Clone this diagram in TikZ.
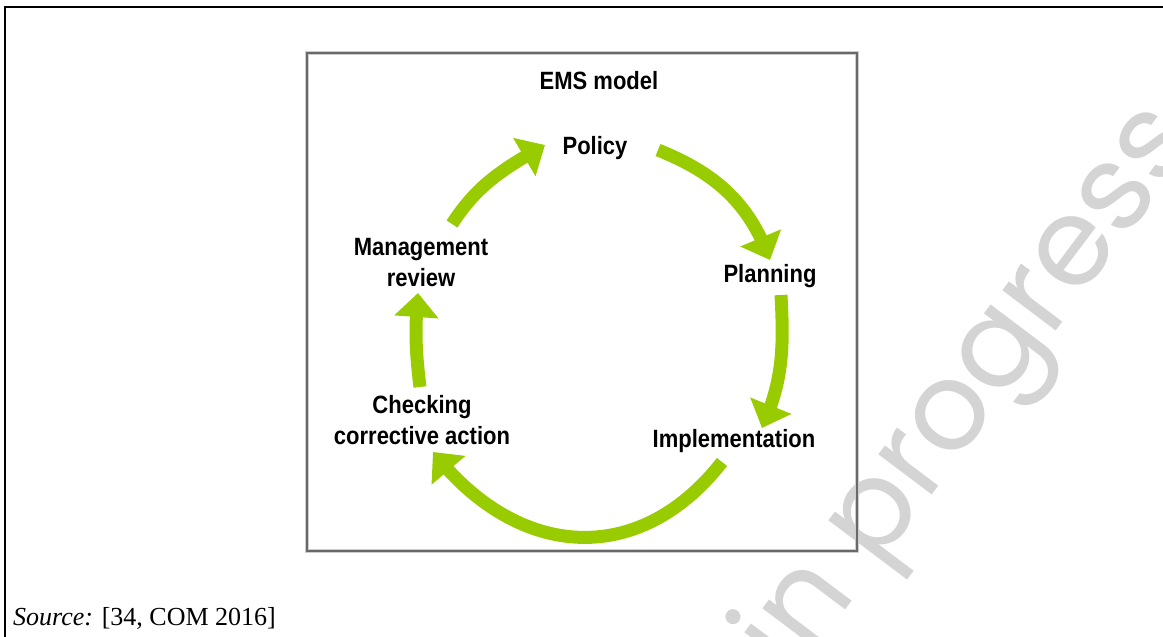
\documentclass[tikz,border=0pt]{standalone}
\usepackage{fontspec}
\setmainfont{Liberation Serif}
\newfontfamily\diagfont{Liberation Sans}[FakeStretch=0.88]
\newfontfamily\wmfont{Poppins}
\usetikzlibrary{arrows.meta,bending}
\definecolor{cyclegreen}{RGB}{153,204,0}
\definecolor{wmgray}{RGB}{212,212,212}
\definecolor{boxgray}{RGB}{105,105,105}
\definecolor{boxhalo}{RGB}{205,205,205}
\begin{document}
\begin{tikzpicture}[x=1pt,y=1pt,
  lbl/.style={font=\diagfont\bfseries\fontsize{25}{31}\selectfont, inner sep=0pt, align=center},
  cyc/.style={draw=cyclegreen, line width=13pt, -{Triangle[width=43pt,length=24pt]}},
  framebox/.style={draw=boxgray, line width=1.5pt, inner sep=0pt, minimum width=550pt, minimum height=498pt,
    preaction={draw=boxhalo, line width=4pt}},
]
\useasboundingbox (0,0) rectangle (1163,637);
% watermark
\begin{scope}
  \clip (0,0) rectangle (1163,637);
  \node[font=\wmfont\fontsize{122}{122}\selectfont, text=wmgray, rotate=53, anchor=base west, inner sep=0pt] (wm) at (792,-44) {in progress};
\end{scope}
% outer frame
\draw[line width=2pt] (1164,630) -- (5,630) -- (5,-1);
% diagram box
\node[framebox] (box) at (582,335) {};
% labels
\node[lbl, anchor=base] (ems) at (599,547) {EMS model};
\node[lbl, anchor=base] (policy) at (595,482) {Policy};
\node[lbl, anchor=base] (planning) at (770,354) {Planning};
\node[lbl, anchor=base] (impl) at (734,189) {Implementation};
\node[lbl] (check) at (422,217) {Checking\\corrective action};
\node[lbl] (mgmt) at (421,374) {Management\\review};
% arrow ends
\coordinate (m2p-s) at (452,413);  \coordinate (m2p-e) at (545,492);
\coordinate (p2pl-s) at (658,487); \coordinate (p2pl-e) at (770,377);
\coordinate (pl2im-s) at (781,342);\coordinate (pl2im-e) at (762,209);
\coordinate (im2ch-s) at (722,175);\coordinate (im2ch-e) at (433,185);
\coordinate (ch2mg-s) at (420,250);\coordinate (ch2mg-e) at (418,344);
% cycle arrows
\draw[cyc] (m2p-s) to[out=57,in=210] (m2p-e);
\draw[cyc] (p2pl-s) to[out=-22,in=110] (p2pl-e);
\draw[cyc] (pl2im-s) to[out=-87,in=66] (pl2im-e);
\draw[cyc] (im2ch-s) to[out=-128,in=-52,looseness=1.2] (im2ch-e);
\draw[cyc] (ch2mg-s) to[out=97,in=-95] (ch2mg-e);
% source
\node[anchor=base west, inner sep=0pt, font=\fontsize{26}{30}\selectfont] (src) at (13,11) {\textit{Source:} [34, COM 2016]};
\end{tikzpicture}
\end{document}
